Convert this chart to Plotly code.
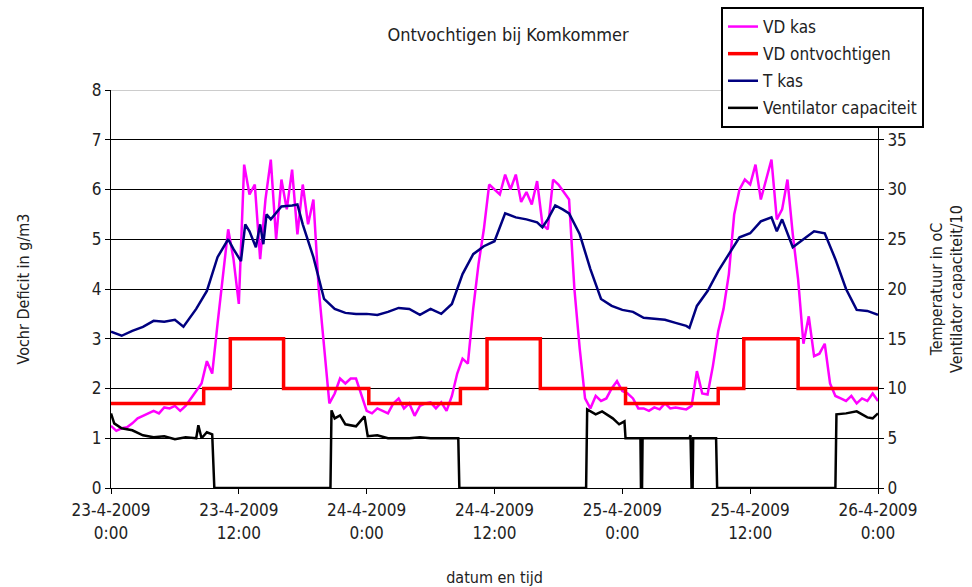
import datetime as dt
import plotly.graph_objects as go

BASE = dt.datetime(2009, 4, 23)

# ---- data (hours after 23-4-2009 0:00) ----
vd_kas_hours = [i * 0.5 for i in range(145)]
vd_kas = [1.25, 1.15, 1.2, 1.22, 1.3, 1.4, 1.45, 1.5, 1.55, 1.5, 1.62, 1.6, 1.65, 1.55, 1.65, 1.8,
          1.95, 2.1, 2.55, 2.3, 3.3, 4.3, 5.2, 4.6, 3.7, 6.5, 5.9, 6.1, 4.6, 5.8, 6.6, 5.0,
          6.2, 5.6, 6.4, 5.1, 6.1, 5.3, 5.8, 4.0, 2.8, 1.7, 1.9, 2.2, 2.1, 2.2, 2.2, 1.85,
          1.55, 1.5, 1.6, 1.55, 1.5, 1.7, 1.8, 1.6, 1.7, 1.45, 1.65, 1.7, 1.72, 1.6, 1.72, 1.55,
          1.85, 2.3, 2.6, 2.5, 3.6, 4.5, 5.2, 6.1, 6.0, 5.9, 6.3, 6.0, 6.3, 5.75, 5.95, 5.7,
          6.17, 5.3, 5.2, 6.2, 6.1, 5.95, 5.8, 4.0, 2.8, 1.8, 1.6, 1.85, 1.75, 1.8, 2.0, 2.15,
          1.95, 1.9, 1.8, 1.6, 1.6, 1.55, 1.62, 1.58, 1.7, 1.6, 1.62, 1.6, 1.58, 1.65, 2.35, 1.9,
          1.88, 2.45, 3.15, 3.6, 4.3, 5.5, 6.0, 6.2, 6.1, 6.5, 5.8, 6.2, 6.6, 5.4, 5.6, 6.2,
          5.1, 4.2, 2.9, 3.45, 2.65, 2.7, 2.9, 2.1, 1.85, 1.8, 1.75, 1.85, 1.7, 1.8, 1.75, 1.9,
          1.75]

vd_ontv_hours = [0, 8.7, 11.2, 16.2, 24.2, 32.8, 35.3, 40.3, 48.3, 57.0, 59.4, 64.5, 72]
vd_ontv = [1.7, 2.0, 3.0, 2.0, 1.7, 2.0, 3.0, 2.0, 1.7, 2.0, 3.0, 2.0, 2.0]

t_kas_hours = [0, 1, 2, 3, 4, 5, 6, 6.8, 8, 9, 10, 11, 11.5, 12.2, 12.6, 13, 13.6, 14, 14.3, 14.6,
               15, 16, 17, 17.5, 18, 19, 20, 21, 22, 23, 24, 25, 26, 27, 28, 29, 30, 31, 32, 33,
               34, 35, 36, 37, 38, 39, 40, 40.5, 41, 41.7, 42.4, 43, 44, 45, 46, 47, 48, 49, 50,
               51, 52, 53, 54, 54.3, 55, 56, 57, 58, 59, 60, 61, 62, 62.5, 63, 64, 65, 66, 67,
               68, 69, 70, 71, 72]
t_kas = [15.7, 15.3, 15.8, 16.2, 16.8, 16.7, 16.9, 16.2, 18.0, 19.8, 23.2, 25.0, 24.0, 22.8, 26.5,
         25.8, 24.2, 26.5, 24.5, 27.5, 27.0, 28.3, 28.4, 28.5, 26.5, 23.2, 19.0, 18.0, 17.6, 17.5,
         17.5, 17.4, 17.7, 18.1, 18.0, 17.4, 18.0, 17.5, 18.5, 21.5, 23.5, 24.3, 24.8, 27.6, 27.2,
         27.0, 26.7, 26.2, 27.0, 28.4, 28.0, 27.6, 25.5, 22.0, 19.0, 18.3, 17.9, 17.7, 17.1, 17.0,
         16.9, 16.6, 16.3, 16.1, 18.3, 19.8, 21.8, 23.5, 25.2, 25.6, 26.8, 27.2, 25.8, 27.0, 24.2,
         25.0, 25.8, 25.6, 23.0, 20.0, 17.9, 17.8, 17.4]

vent_hours = [0, 0.3, 1, 2, 3, 4, 5, 6, 7, 8, 8.2, 8.5, 9, 9.5, 9.7, 20.6, 20.7, 21, 21.5, 22, 23,
              23.8, 24.1, 25, 26, 28, 29, 30, 32.6, 32.7, 44.6, 44.7, 45.5, 46.1, 47.1, 47.7, 48.2,
              48.3, 49.7, 49.75, 49.85, 49.9, 54.3, 54.4, 54.5, 54.6, 54.65, 56.8, 56.9, 68.0,
              68.1, 69, 70, 71, 71.5, 72]
vent = [7.5, 6.5, 6.0, 5.8, 5.3, 5.1, 5.2, 4.9, 5.1, 5.0, 6.3, 5.0, 5.6, 5.4, 0, 0, 7.8, 7.0, 7.3,
        6.4, 6.2, 7.2, 5.2, 5.3, 5.0, 5.0, 5.1, 5.0, 5.0, 0, 0, 7.9, 7.4, 7.7, 7.0, 6.4, 6.7, 5.0,
        5.0, 0, 0, 5.0, 5.0, 5.3, 0, 0, 5.0, 5.0, 0, 0, 7.4, 7.5, 7.7, 7.1, 7.0, 7.5]

tick_hours = [0, 12, 24, 36, 48, 60, 72]
tick_text = ["23-4-2009<br>0:00", "23-4-2009<br>12:00", "24-4-2009<br>0:00", "24-4-2009<br>12:00",
             "25-4-2009<br>0:00", "25-4-2009<br>12:00", "26-4-2009<br>0:00"]


def to_time(hours):
    return [BASE + dt.timedelta(hours=h) for h in hours]


FONT = "DejaVu Sans Condensed, Liberation Sans Narrow, sans-serif"

fig = go.Figure()
fig.add_trace(go.Scatter(x=to_time(vd_kas_hours), y=vd_kas, name="VD kas", mode="lines",
                         line=dict(color="#FF00FF", width=2.5), legendgroup="a"))
fig.add_trace(go.Scatter(x=to_time(vd_ontv_hours), y=vd_ontv, name="VD ontvochtigen", mode="lines",
                         line=dict(color="#FF0000", width=3.5, shape="hv"), legendgroup="b"))
fig.add_trace(go.Scatter(x=to_time(t_kas_hours), y=t_kas, name="T kas", mode="lines",
                         line=dict(color="#000080", width=2.5), yaxis="y2", legendgroup="c"))
fig.add_trace(go.Scatter(x=to_time(vent_hours), y=vent, name="Ventilator capaciteit", mode="lines",
                         line=dict(color="#000000", width=2.5), yaxis="y2", legendgroup="d"))

fig.update_layout(
    width=972, height=587,
    margin=dict(l=111, r=94, t=90, b=99, autoexpand=False),
    paper_bgcolor="white", plot_bgcolor="white",
    font=dict(family=FONT, size=16, color="#222"),
    title=dict(text="Ontvochtigen bij Komkommer", x=508 / 972, xanchor="center",
               y=1 - 35 / 587, yanchor="middle", font=dict(size=18, family=FONT)),
    xaxis=dict(type="date", range=[BASE, BASE + dt.timedelta(hours=72)],
               tickvals=to_time(tick_hours), ticktext=tick_text,
               ticks="outside", ticklen=5, tickcolor="black",
               showline=True, linecolor="black", linewidth=1, showgrid=False, zeroline=False,
               tickfont=dict(size=17), automargin=False, ticklabelstandoff=2,
               title=dict(text="datum en tijd", standoff=30, font=dict(size=16))),
    yaxis=dict(range=[0, 8], dtick=1, ticks="outside", ticklen=5, tickcolor="black",
               showline=True, linecolor="black", linewidth=1, showgrid=True,
               gridcolor="black", gridwidth=1, zeroline=False, tickfont=dict(size=17),
               automargin=False,
               title=dict(text="Vochr Deficit in g/m3", standoff=58, font=dict(size=16))),
    yaxis2=dict(range=[0, 40], tickvals=[0, 5, 10, 15, 20, 25, 30, 35], overlaying="y",
                side="right", ticks="outside", ticklen=5, tickcolor="black",
                showline=True, linecolor="black", linewidth=1, showgrid=True,
                gridcolor="black", gridwidth=1, zeroline=False,
                tickfont=dict(size=17), automargin=False,
                title=dict(text="Temperatuur in oC<br>Ventilator capaciteit/10", standoff=24,
                           font=dict(size=16))),
    legend=dict(x=(721 - 111) / 767, y=(488 - 7) / 398, xanchor="left", yanchor="top",
                bordercolor="black", borderwidth=2, bgcolor="white",
                font=dict(size=17, family=FONT), tracegroupgap=2, itemwidth=30),
    shapes=[dict(type="line", xref="paper", yref="y", x0=0, x1=1, y0=8, y1=8,
                 line=dict(color="#999", width=1), layer="above")],
)

fig.write_html("out.html", config={"displayModeBar": False},
               post_script="document.body.style.margin='0px';")
